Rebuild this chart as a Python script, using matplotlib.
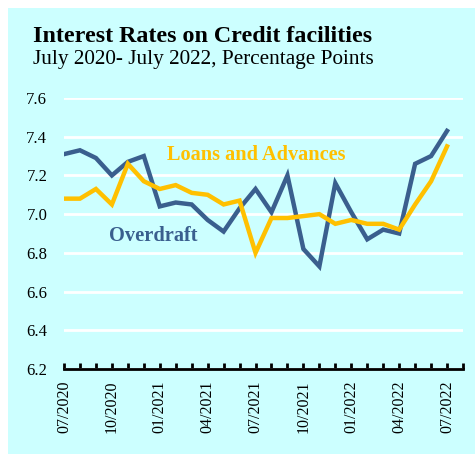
import matplotlib.pyplot as plt
from matplotlib.patches import Rectangle

months = ["07/2020", "08/2020", "09/2020", "10/2020", "11/2020", "12/2020",
          "01/2021", "02/2021", "03/2021", "04/2021", "05/2021", "06/2021",
          "07/2021", "08/2021", "09/2021", "10/2021", "11/2021", "12/2021",
          "01/2022", "02/2022", "03/2022", "04/2022", "05/2022", "06/2022",
          "07/2022"]
overdraft = [7.31, 7.33, 7.29, 7.20, 7.27, 7.30, 7.04, 7.06, 7.05, 6.97,
             6.91, 7.03, 7.13, 7.01, 7.20, 6.82, 6.73, 7.16, 7.01, 6.87,
             6.92, 6.90, 7.26, 7.30, 7.43]
loans = [7.08, 7.08, 7.13, 7.05, 7.26, 7.17, 7.13, 7.15, 7.11, 7.10,
         7.05, 7.07, 6.80, 6.98, 6.98, 6.99, 7.00, 6.95, 6.97, 6.95,
         6.95, 6.92, 7.05, 7.17, 7.35]
yticks = [6.2, 6.4, 6.6, 6.8, 7.0, 7.2, 7.4, 7.6]

bg = "#CCFFFF"
blue = "#3A5F8E"
gold = "#FFC000"
serif = ["Liberation Serif", "DejaVu Serif"]

fig = plt.figure(figsize=(4.75, 4.54), dpi=100)
fig.patch.set_facecolor("white")
fig.patches.append(Rectangle((8 / 475, 0), 1, 1 - 8 / 454, transform=fig.transFigure,
                             facecolor=bg, edgecolor="none", zorder=-10))

ax = fig.add_axes([64 / 475, 1 - 369 / 454, (463 - 64) / 475, (369 - 98) / 454])
ax.set_facecolor(bg)

x = list(range(len(months)))
ax.plot(x, overdraft, color=blue, lw=3.2, solid_joinstyle="miter", zorder=3)
ax.plot(x, loans, color=gold, lw=3.2, solid_joinstyle="miter", zorder=4)

ax.set_ylim(6.2, 7.6)
ax.set_xlim(0, 25)
ax.set_yticks(yticks)
ax.set_yticklabels([f"{v:.1f}" for v in yticks], fontfamily=serif, fontsize=12)
ax.yaxis.grid(True, color="white", lw=2)
ax.set_axisbelow(True)

ax.set_xticks(range(26))
ax.set_xticklabels([months[i] if i < len(months) and i % 3 == 0 else "" for i in range(26)],
                   rotation=90, fontfamily=serif, fontsize=11.5)
ax.tick_params(axis="x", direction="in", length=4, width=2, pad=8)
ax.tick_params(axis="y", length=0, pad=12)

for s in ["top", "right", "left"]:
    ax.spines[s].set_visible(False)
ax.spines["bottom"].set_linewidth(2)

ax.text(12.06, 7.305, "Loans and Advances", color=gold, fontfamily=serif,
        fontweight="bold", fontsize=14.6, ha="center", va="center")
ax.text(5.6, 6.887, "Overdraft", color=blue, fontfamily=serif,
        fontweight="bold", fontsize=14.7, ha="center", va="center")

fig.text(33 / 475, 1 - 26 / 454, "Interest Rates on Credit facilities",
         fontfamily=serif, fontweight="bold", fontsize=17.3, va="top")
fig.text(33 / 475, 1 - 50 / 454, "July 2020- July 2022, Percentage Points",
         fontfamily=serif, fontsize=15.3, va="top")

fig.savefig("out.png", dpi=100, facecolor=fig.get_facecolor())
